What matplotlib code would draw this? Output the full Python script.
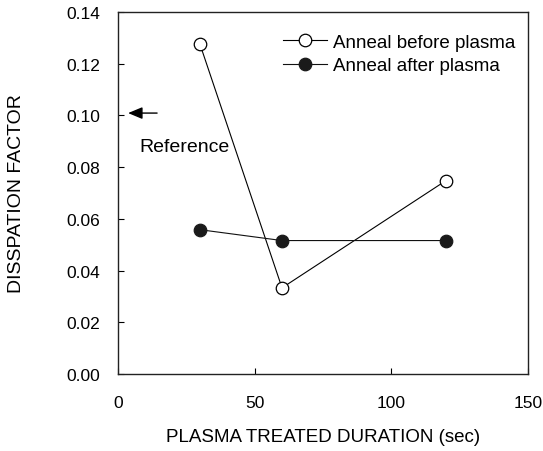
import matplotlib
matplotlib.use("Agg")
import matplotlib.pyplot as plt

plt.rcParams['font.family'] = ['Liberation Sans', 'DejaVu Sans']

duration = [30, 60, 120]
before_plasma = [0.1275, 0.0333, 0.0748]
after_plasma = [0.0558, 0.0516, 0.0516]
reference_x = [14.3, 3.7]
reference_value = 0.1009
series_labels = ['Anneal before plasma', 'Anneal after plasma']
yticks = [0, 0.02, 0.04, 0.06, 0.08, 0.10, 0.12, 0.14]
xticks = [0, 50, 100, 150]

fig = plt.figure(figsize=(5.43, 4.52), dpi=100)
ax = fig.add_axes([0.2173, 0.1704, 0.7551, 0.8009])

ax.plot(duration, before_plasma, '-o', color='black', lw=0.8, mfc='white', mec='black',
        ms=9, mew=0.9, label=series_labels[0])
ax.plot(duration, after_plasma, '-o', color='#111111', lw=0.8, mfc='#1a1a1a', mec='#1a1a1a',
        ms=9, mew=0.9, label=series_labels[1])

ax.annotate('', xy=(reference_x[1], reference_value), xytext=(reference_x[0], reference_value),
            arrowprops=dict(arrowstyle='-|>,head_length=0.72,head_width=0.3', color='black',
                            lw=1.0, mutation_scale=12, shrinkA=0, shrinkB=0))
ax.text(8.0, 0.0878, 'Reference', fontsize=14, va='center', ha='left')

ax.set_xlim(0, 150)
ax.set_ylim(0, 0.14)
ax.set_xticks(xticks)
ax.set_yticks(yticks)
ax.set_yticklabels([f'{v:.2f}' for v in yticks])
ax.tick_params(direction='in', labelsize=12.5, length=4, top=False, right=False)
ax.tick_params(axis='x', pad=15)
ax.tick_params(axis='y', pad=13)
for s in ax.spines.values():
    s.set_linewidth(1.0)
    s.set_color('#222222')

ax.set_xlabel('PLASMA TREATED DURATION (sec)', fontsize=13.5)
ax.xaxis.set_label_coords(0.5, -0.149)
ax.set_ylabel('DISSPATION FACTOR', fontsize=14)
ax.yaxis.set_label_coords(-0.227, 0.5)

ax.legend(loc='upper left', bbox_to_anchor=(0.4024, 0.94), frameon=False, fontsize=13.5,
          handlelength=2.35, handletextpad=0.3, borderaxespad=0, borderpad=0,
          labelspacing=0.33)

fig.savefig('out.png', dpi=100)
